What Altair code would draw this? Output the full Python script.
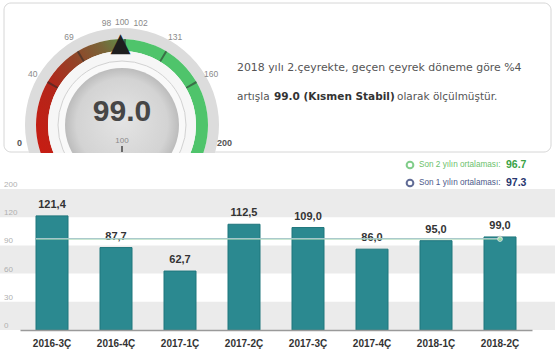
import math
import altair as alt
import pandas as pd

# ---------------- data ----------------
categories = ["2016-3Ç", "2016-4Ç", "2017-1Ç", "2017-2Ç", "2017-3Ç", "2017-4Ç", "2018-1Ç", "2018-2Ç"]
values = [121.4, 87.7, 62.7, 112.5, 109.0, 86.0, 95.0, 99.0]
value_labels = ["121,4", "87,7", "62,7", "112,5", "109,0", "86,0", "95,0", "99,0"]
y_ticks = [0, 30, 60, 90, 120, 150]
y_tick_labels = ["0", "30", "60", "90", "120", "200"]
band_lo = [0, 60, 120]
band_hi = [30, 90, 150]
avg_2y = 96.7
avg_1y = 97.3
gauge_labels = [0, 40, 69, 100, 131, 160, 200]
gauge_major = [40, 69, 102, 131, 160]
gauge_value = 99.0
gauge_min, gauge_mid, gauge_max = 0, 100, 200

# ---------------- layout ----------------
W, H = 555, 141
TOP = 189
cx, cy = 122, 125 - TOP

tscale = alt.Scale(domain=[gauge_min, gauge_max],
                   range=[2 * math.pi - math.radians(100), 2 * math.pi + math.radians(100)])
xscale = alt.Scale(domain=categories, range=[20, 532], paddingInner=0.5, paddingOuter=0.25)
yscale = alt.Scale(domain=[0, 150], nice=False, zero=True)


def arc(s, e, r, r2, fill, **kw):
    df = pd.DataFrame({"s": [s], "e": [e]})
    return alt.Chart(df).mark_arc(radius=r, radius2=r2, fill=fill, **kw).encode(
        x=alt.value(cx), y=alt.value(cy),
        theta=alt.Theta("s:Q", scale=tscale, stack=None), theta2="e:Q")


def txt(s, x, y, **kw):
    return alt.Chart(pd.DataFrame({"t": [s]})).mark_text(**kw).encode(
        x=alt.value(x), y=alt.value(y - TOP), text="t:N")


# card
card = alt.Chart(pd.DataFrame({"a": [0]})).mark_rect(
    fill="white", stroke="#d6d6d6", strokeWidth=1, cornerRadius=7).encode(
    x=alt.value(4), x2=alt.value(551), y=alt.value(3 - TOP), y2=alt.value(152 - TOP))

red_grad = {"gradient": "linear", "x1": 0, "y1": 1, "x2": 1, "y2": 0,
            "stops": [{"offset": 0, "color": "#cc1a10"},
                      {"offset": 0.4, "color": "#b3261a"},
                      {"offset": 0.65, "color": "#924528"},
                      {"offset": 0.85, "color": "#7a6438"},
                      {"offset": 1, "color": "#5f8c48"}]}
disc_grad = {"gradient": "radial", "x1": 0.5, "y1": 0.45, "r1": 0, "x2": 0.5, "y2": 0.5, "r2": 0.5,
             "stops": [{"offset": 0, "color": "#e4e4e4"},
                       {"offset": 0.8, "color": "#d3d3d3"},
                       {"offset": 1, "color": "#bcbcbc"}]}

outer_ring = arc(gauge_min - 20, gauge_max + 20, 97, 86, "#dcdcdc")
red_arc = arc(gauge_min - 20, gauge_mid, 86, 74, red_grad)
green_arc = arc(gauge_mid, gauge_max + 20, 86, 74, "#4fc46b")
ticks = alt.Chart(pd.DataFrame({"v": gauge_major})).transform_calculate(
    s="datum.v - 0.7", e="datum.v + 0.7").mark_arc(
    radius=86, radius2=74, fill="#2a2a2a", opacity=0.55).encode(
    x=alt.value(cx), y=alt.value(cy),
    theta=alt.Theta("s:Q", scale=tscale, stack=None), theta2="e:Q")
white_ring = arc(gauge_min - 20, gauge_max + 20, 74, 0, "#f6f6f6")
line_ring = arc(gauge_min - 80, gauge_max + 80, 64, 0, "#f9f9f9", stroke="#d2d2d2", strokeWidth=1)
disc = arc(gauge_min - 80, gauge_max + 80, 57, 0, disc_grad)

cover = alt.Chart(pd.DataFrame({"a": [0]})).mark_rect(fill="white").encode(
    x=alt.value(0), x2=alt.value(W), y=alt.value(153 - TOP), y2=alt.value(0))

glab_df = pd.DataFrame({"v": gauge_labels, "t": [str(v) for v in gauge_labels]})
glab_light = alt.Chart(glab_df).transform_filter(
    "datum.v > 0 && datum.v < 200").mark_text(
    radius=103, fontSize=8.5, font="Liberation Sans", color="#8a8a8a", baseline="middle").encode(
    x=alt.value(cx), y=alt.value(cy),
    theta=alt.Theta("v:Q", scale=tscale, stack=None), text="t:N")
glab_dark = alt.Chart(glab_df).transform_filter(
    "datum.v == 0 || datum.v == 200").mark_text(
    radius=104, fontSize=9, font="Liberation Sans", fontWeight="bold", color="#555555",
    baseline="middle").encode(
    x=alt.value(cx), y=alt.value(cy),
    theta=alt.Theta("v:Q", scale=tscale, stack=None), text="t:N")
g98 = alt.Chart(pd.DataFrame({"v": [98], "t": ["98"]})).mark_text(
    radius=102, fontSize=8.5, font="Liberation Sans", color="#8a8a8a", baseline="middle", dx=-12).encode(
    x=alt.value(cx), y=alt.value(cy), theta=alt.Theta("v:Q", scale=tscale, stack=None), text="t:N")
g102 = alt.Chart(pd.DataFrame({"v": [102], "t": ["102"]})).mark_text(
    radius=102, fontSize=8.5, font="Liberation Sans", color="#8a8a8a", baseline="middle", dx=15).encode(
    x=alt.value(cx), y=alt.value(cy), theta=alt.Theta("v:Q", scale=tscale, stack=None), text="t:N")
needle = alt.Chart(pd.DataFrame({"v": [gauge_value], "t": ["▲"]})).mark_text(
    radius=82, fontSize=26, font="DejaVu Sans", color="#1e1e1e", baseline="middle").encode(
    x=alt.value(cx), y=alt.value(cy), theta=alt.Theta("v:Q", scale=tscale, stack=None), text="t:N")

big_val = txt(f"{gauge_value:.1f}", cx, 112, fontSize=30, font="Liberation Sans", fontWeight="bold",
              color="#464646", baseline="middle")
mid_lab = txt(str(gauge_mid), cx, 141, fontSize=8, font="Liberation Sans", color="#8a8a8a",
              baseline="middle")
mid_tick = alt.Chart(pd.DataFrame({"a": [0]})).mark_rule(color="#444444", strokeWidth=1.5).encode(
    x=alt.value(cx), y=alt.value(146 - TOP), y2=alt.value(152 - TOP))

pfont = dict(font="DejaVu Sans", baseline="middle", align="left")
line1 = txt("2018 yılı 2.çeyrekte, geçen çeyrek döneme göre %4", 237, 68, fontSize=10.9,
            color="#555555", **pfont)
line2a = txt("artışla", 237, 97, fontSize=10.5, color="#555555", **pfont)
line2b = txt("99.0 (Kısmen Stabil)", 274, 97, fontSize=10.5, color="#333333", fontWeight="bold", **pfont)
line2c = txt("olarak ölçülmüştür.", 397, 97, fontSize=10.5, color="#555555", **pfont)

leg_c1 = alt.Chart(pd.DataFrame({"a": [0]})).mark_point(
    shape="circle", filled=False, size=45, strokeWidth=2, color="#4cb85a").encode(
    x=alt.value(410), y=alt.value(165 - TOP))
leg_c2 = alt.Chart(pd.DataFrame({"a": [0]})).mark_point(
    shape="circle", filled=False, size=45, strokeWidth=2, color="#1f2f6a").encode(
    x=alt.value(410), y=alt.value(183 - TOP))
lfont = dict(font="Liberation Sans", baseline="middle", align="left")
leg_t1 = txt("Son 2 yılın ortalaması:", 419, 165, fontSize=8.2, color="#6cbf6c", **lfont)
leg_v1 = txt(f"{avg_2y}", 506, 165, fontSize=10.5, fontWeight="bold", color="#3aa346", **lfont)
leg_t2 = txt("Son 1 yılın ortalaması:", 419, 183, fontSize=8.2, color="#4d5a8a", **lfont)
leg_v2 = txt(f"{avg_1y}", 506, 183, fontSize=10.5, fontWeight="bold", color="#27366f", **lfont)

# ---------------- bar chart ----------------
bands = alt.Chart(pd.DataFrame({"lo": band_lo, "hi": band_hi})).mark_rect(fill="#ebebeb").encode(
    x=alt.value(0), x2=alt.value(W),
    y=alt.Y("lo:Q", scale=yscale, axis=None), y2="hi:Q")

ylabels = alt.Chart(pd.DataFrame({"t": y_ticks, "l": y_tick_labels})).mark_text(
    align="left", baseline="alphabetic", dy=-2, fontSize=8, font="Liberation Sans",
    color="#b0b0b0").encode(
    x=alt.value(4), y=alt.Y("t:Q", scale=yscale, axis=None), text="l:N")

bar_df = pd.DataFrame({"cat": categories, "val": values, "lab": value_labels})
xenc = alt.X("cat:N", scale=xscale, title=None,
             axis=alt.Axis(labelFont="Liberation Sans", labelFontWeight="bold", labelFontSize=10,
                           labelColor="#333333", tickSize=0, labelPadding=8, domainColor="#9a9a9a",
                           domainWidth=1.5, grid=False, labelAngle=0, zindex=1))
bars = alt.Chart(bar_df).mark_bar(fill="#2b8990", stroke="#1f767c", strokeWidth=1).encode(
    x=xenc, y=alt.Y("val:Q", scale=yscale, axis=None))
bar_text = alt.Chart(bar_df).mark_text(
    baseline="alphabetic", dy=-8, fontSize=11, font="Liberation Sans", fontWeight="bold",
    color="#333333").encode(
    x=alt.X("cat:N", scale=xscale), y=alt.Y("val:Q", scale=yscale, axis=None), text="lab:N")

avg_df = pd.DataFrame({"a": [categories[0]] * 2, "b": [categories[-1]] * 2,
                       "v": [avg_2y, avg_1y], "k": ["2y", "1y"]})
avg_rule = alt.Chart(avg_df).mark_rule(strokeWidth=1).encode(
    x=alt.X("a:N", scale=xscale, bandPosition=0), x2="b:N",
    y=alt.Y("v:Q", scale=yscale, axis=None),
    color=alt.Color("k:N", scale=alt.Scale(domain=["2y", "1y"], range=["#a9d9b4", "#a9c9cc"]),
                    legend=None))
pts_df = pd.DataFrame({"c": [categories[-1]] * 2, "v": [avg_1y, avg_2y], "k": ["1y", "2y"]})
avg_pts = alt.Chart(pts_df).mark_point(shape="circle", filled=True, size=22, strokeWidth=1).encode(
    x=alt.X("c:N", scale=xscale), y=alt.Y("v:Q", scale=yscale, axis=None),
    fill=alt.Fill("k:N", scale=alt.Scale(domain=["1y", "2y"], range=["#ffffff", "#7ee08a"]), legend=None),
    stroke=alt.Stroke("k:N", scale=alt.Scale(domain=["1y", "2y"], range=["#9a9a9a", "#ffffff"]), legend=None))

chart = alt.layer(
    card, outer_ring, red_arc, green_arc, ticks, white_ring, line_ring, disc, cover,
    glab_light, glab_dark, g98, g102, needle, big_val, mid_lab, mid_tick,
    line1, line2a, line2b, line2c,
    leg_c1, leg_c2, leg_t1, leg_v1, leg_t2, leg_v2,
    bands, ylabels, bars, bar_text, avg_rule, avg_pts,
).resolve_scale(color="independent").properties(
    width=W, height=H,
    autosize=alt.AutoSizeParams(type="none"),
    padding={"left": 0, "top": TOP, "right": 0, "bottom": 355 - TOP - H},
    background="white",
).configure_view(stroke=None)

chart.save("out.html", embed_options={"renderer": "svg", "actions": False})
